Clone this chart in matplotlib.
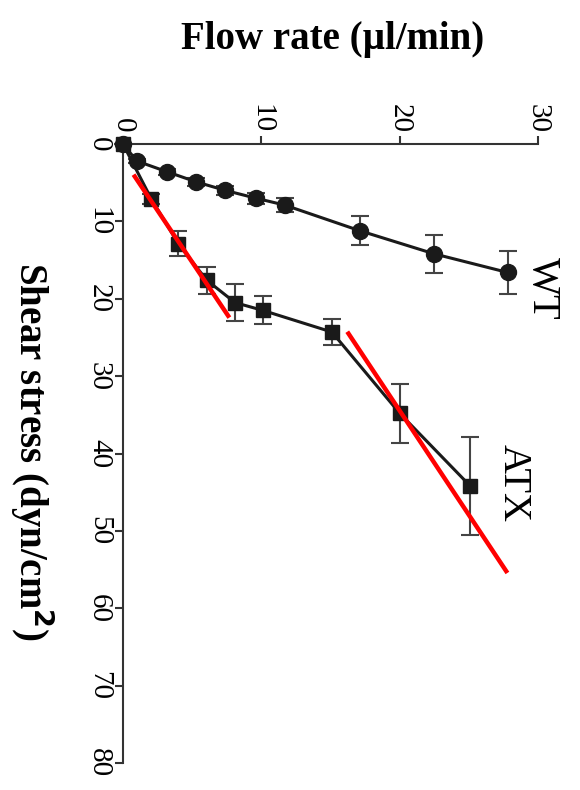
import matplotlib.pyplot as plt

plt.rcParams['font.family'] = 'Liberation Serif'

# WT (circles) and ATX (squares): flow rate vs shear stress
wt_flow = [0, 1.0, 3.2, 5.3, 7.4, 9.6, 11.7, 17.1, 22.5, 27.8]
wt_stress = [0, 2.2, 3.6, 4.9, 6.0, 7.0, 7.9, 11.2, 14.2, 16.6]
wt_err = [0, 0.3, 0.4, 0.5, 0.6, 0.7, 0.9, 1.9, 2.5, 2.8]

atx_flow = [0, 2.05, 4.0, 6.05, 8.1, 10.1, 15.1, 20.0, 25.1]
atx_stress = [0, 7.1, 12.9, 17.6, 20.5, 21.5, 24.3, 34.8, 44.2]
atx_err = [0, 0.6, 1.6, 1.75, 2.35, 1.8, 1.65, 3.8, 6.3]

# red linear fits (end points)
fit1_flow = [0.85, 7.6]
fit1_stress = [4.2, 22.2]
fit2_flow = [16.3, 27.7]
fit2_stress = [24.5, 55.2]

x_ticks = [0, 10, 20, 30]
y_ticks = [0, 10, 20, 30, 40, 50, 60, 70, 80]

fig = plt.figure(figsize=(5.8, 7.9), dpi=100)
ax = fig.add_axes([123/580, 1 - 763/790, (538 - 123)/580, (763 - 144)/790])

ax.errorbar(wt_flow, wt_stress, yerr=wt_err, color='#1a1a1a', marker='o', markersize=11.5,
            lw=2.2, elinewidth=1.5, ecolor='#444444', capsize=6.5, capthick=1.5, clip_on=False, zorder=3)
ax.errorbar(atx_flow, atx_stress, yerr=atx_err, color='#1a1a1a', marker='s', markersize=10.5,
            lw=2.2, elinewidth=1.5, ecolor='#444444', capsize=6.5, capthick=1.5, clip_on=False, zorder=3)
ax.plot(fit1_flow, fit1_stress, color='red', lw=3.2, zorder=5)
ax.plot(fit2_flow, fit2_stress, color='red', lw=3.2, zorder=5)

ax.set_xlim(0, 30)
ax.set_ylim(80, 0)
ax.xaxis.tick_top()
ax.set_xticks(x_ticks)
ax.set_yticks(y_ticks)
ax.spines['right'].set_visible(False)
ax.spines['bottom'].set_visible(False)
for s in ['top', 'left']:
    ax.spines[s].set_linewidth(1.5)
    ax.spines[s].set_color('#333333')
ax.tick_params(axis='both', direction='out', length=6, width=1.5, color='#333333',
               labelsize=21, pad=2)
for lab in ax.get_xticklabels():
    lab.set_rotation(-90)
    lab.set_va('bottom')
    lab.set_ha('center')
for lab in ax.get_yticklabels():
    lab.set_rotation(-90)
    lab.set_va('center')
    lab.set_ha('right')

ax.text(29.0, 18.6, 'WT', rotation=-90, fontsize=29, ha='left', va='center')
ax.text(26.9, 43.8, 'ATX', rotation=-90, fontsize=29, ha='left', va='center')

fig.text(333/580, 1 - 40/790, 'Flow rate (\u00b5l/min)', fontsize=28, fontweight='bold',
         ha='center', va='center')
fig.text(32/580, 1 - 452/790, 'Shear stress (dyn/cm$^\\mathbf{2}$)', fontsize=28, fontweight='bold',
         rotation=-90, ha='center', va='center')

fig.savefig('out.png', dpi=100)
